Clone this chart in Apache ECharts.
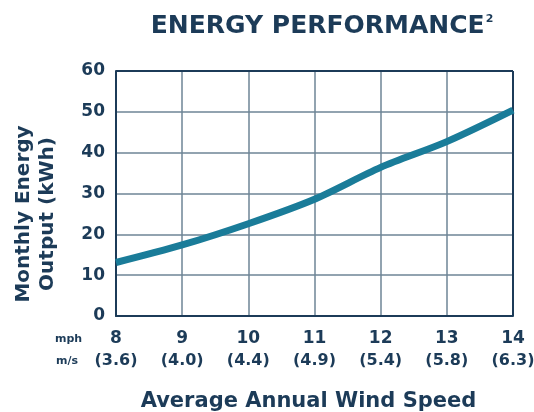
<!DOCTYPE html>
<html><head><meta charset="utf-8">
<script src="https://cdn.jsdelivr.net/npm/echarts@6/dist/echarts.min.js"></script>
<style>html,body{margin:0;padding:0;background:#fff}#c{width:534px;height:412px}</style>
</head><body><div id="c"></div>
<script>
var mph = [8, 9, 10, 11, 12, 13, 14];
var ms = ['3.6', '4.0', '4.4', '4.9', '5.4', '5.8', '6.3'];
var energy = [13.1, 17.4, 22.6, 28.6, 36.4, 42.7, 50.4];
var yTicks = [0, 10, 20, 30, 40, 50, 60];

var navy = '#1c3b58';
var font = 'DejaVu Sans';
var chart = echarts.init(document.getElementById('c'));
chart.setOption({
  animation: false,
  title: {
    text: '{t|ENERGY PERFORMANCE}{s|2}',
    left: 317, top: 9, textAlign: 'center',
    textStyle: {
      rich: {
        t: {fontFamily: font, fontWeight: 'bold', fontSize: 25, color: navy},
        s: {fontFamily: font, fontWeight: 'bold', fontSize: 11, color: navy, verticalAlign: 'top', padding: [0,0,10,1]}
      }
    }
  },
  graphic: [
    {type: 'text', left: 55, top: 334, style: {text: 'mph', fontFamily: font, fontWeight: 'bold', fontSize: 11, fill: navy}},
    {type: 'text', left: 56, top: 356, style: {text: 'm/s', fontFamily: font, fontWeight: 'bold', fontSize: 11, fill: navy}},
    {type: 'text', x: 36, y: 214, rotation: Math.PI / 2,
      style: {text: 'Monthly Energy\nOutput (kWh)', fontFamily: font, fontWeight: 'bold', fontSize: 20, lineHeight: 24,
        fill: navy, align: 'center', verticalAlign: 'middle'}}
  ],
  grid: {left: 116, right: 21, top: 71, bottom: 96, containLabel: false, outerBoundsMode: 'none'},
  xAxis: {
    type: 'value', min: 8, max: 14, interval: 1,
    name: 'Average Annual Wind Speed', nameLocation: 'middle', nameGap: 75,
    nameTextStyle: {fontFamily: font, fontWeight: 'bold', fontSize: 21, color: navy, padding: [0, 12, 0, 0]},
    axisLine: {show: true, lineStyle: {color: navy, width: 2}},
    axisTick: {show: false},
    splitLine: {show: true, lineStyle: {color: '#6e8596', width: 1.5}},
    axisLabel: {
      margin: 12,
      formatter: function (v) {
        var i = mph.indexOf(v);
        return '{a|' + v + '}\n{b|(' + (i >= 0 ? ms[i] : '') + ')}';
      },
      rich: {
        a: {fontFamily: font, fontWeight: 'bold', fontSize: 17, color: navy, lineHeight: 22},
        b: {fontFamily: font, fontWeight: 'bold', fontSize: 16, color: navy, lineHeight: 22}
      }
    }
  },
  yAxis: {
    type: 'value', min: yTicks[0], max: yTicks[yTicks.length - 1], interval: 10,
    axisLine: {show: true, lineStyle: {color: navy, width: 2}},
    axisTick: {show: false},
    splitLine: {show: true, lineStyle: {color: '#6e8596', width: 1.5}},
    axisLabel: {margin: 11, fontFamily: font, fontWeight: 'bold', fontSize: 17, color: navy}
  },
  series: [{
    type: 'line',
    data: mph.map(function (x, i) { return [x, energy[i]]; }),
    smooth: 0.3,
    showSymbol: false,
    lineStyle: {color: '#1a7c99', width: 7},
    z: 5
  }, {
    type: 'line', data: [], markLine: {silent: true, symbol: 'none', label: {show: false},
      lineStyle: {color: navy, width: 2, type: 'solid'},
      data: [[{coord: [8, 60]}, {coord: [14, 60]}], [{coord: [14, 0]}, {coord: [14, 60]}]]}
  }]
});
</script></body></html>
